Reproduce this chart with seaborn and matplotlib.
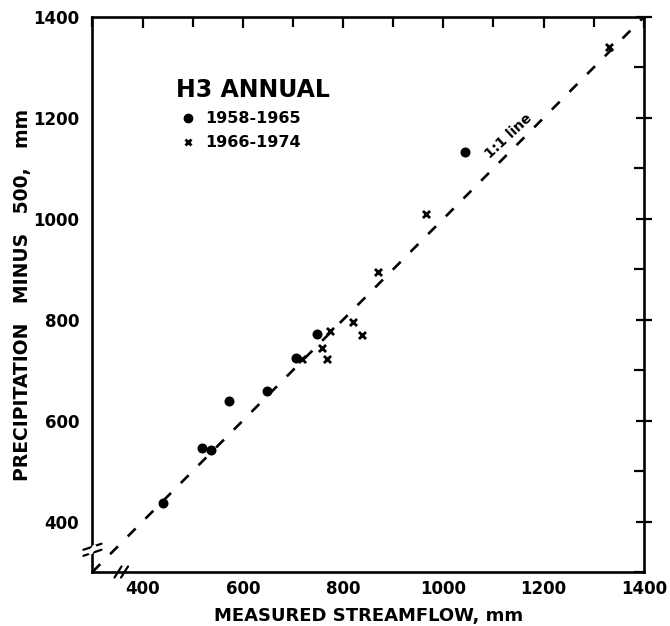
import matplotlib
matplotlib.use("Agg")
import matplotlib.pyplot as plt
from matplotlib.lines import Line2D
from matplotlib.ticker import MultipleLocator
import seaborn as sns
import pandas as pd

# ---- data ----
period_a = "1958-1965"
period_b = "1966-1974"
streamflow_a = [440, 519, 537, 572, 649, 706, 748, 1043]
precip_a = [437, 545, 541, 638, 658, 724, 771, 1133]
streamflow_b = [718, 757, 768, 774, 820, 838, 870, 965, 1330]
precip_b = [722, 743, 722, 777, 795, 770, 895, 1010, 1340]
one_to_one = [300, 1400]
x_ticks_major = 200
ticks_minor = 100
axis_limits = (300, 1400)
break_x = 357
break_y = 344

df_a = pd.DataFrame({"x": streamflow_a, "y": precip_a})
df_b = pd.DataFrame({"x": streamflow_b, "y": precip_b})

sns.set_theme(style="white")
plt.rcParams["font.family"] = ["DejaVu Sans"]
plt.rcParams["font.weight"] = "bold"

fig = plt.figure(figsize=(6.70, 6.26), dpi=100)
ax = fig.add_axes([0.138, 0.0863, 0.823, 0.8866])

# 1:1 line
sns.lineplot(x=one_to_one, y=one_to_one, ax=ax, color="black", lw=1.9,
             linestyle=(0, (4.2, 5.3)))

sns.scatterplot(data=df_a, x="x", y="y", ax=ax, marker="o", s=52,
                color="black", edgecolor="black", linewidth=0)
sns.scatterplot(data=df_b, x="x", y="y", ax=ax, marker="x", s=26,
                color="black", linewidth=2.0)

ax.set_xlim(*axis_limits)
ax.set_ylim(*axis_limits)

ax.xaxis.set_major_locator(MultipleLocator(x_ticks_major))
ax.yaxis.set_major_locator(MultipleLocator(x_ticks_major))
ax.xaxis.set_minor_locator(MultipleLocator(ticks_minor))
ax.yaxis.set_minor_locator(MultipleLocator(ticks_minor))

for s in ax.spines.values():
    s.set_linewidth(1.9)
    s.set_color("black")

ax.tick_params(axis="both", which="both", direction="in", top=True, right=True,
               width=1.6, color="black", labelsize=12, labelcolor="black")
ax.tick_params(axis="both", which="major", length=8)
ax.tick_params(axis="both", which="minor", length=7)
ax.tick_params(axis="y", which="major", direction="inout", length=11, pad=4)
ax.tick_params(axis="x", which="major", pad=6)
ax.tick_params(labeltop=False, labelright=False)
for lab in ax.get_xticklabels() + ax.get_yticklabels():
    lab.set_fontweight("bold")

ax.set_xlabel("MEASURED STREAMFLOW, mm", fontsize=13, fontweight="bold",
              labelpad=6, color="black")
ax.set_ylabel("PRECIPITATION   MINUS   500,   mm", fontsize=13.5,
              fontweight="bold", labelpad=1, color="black")

# 1:1 line label
ax.text(1131, 1163, "1:1 line", rotation=43, ha="center", va="center",
        rotation_mode="anchor", fontsize=10, fontweight="bold", color="black")

# axis break marks
dx, dy = 18, 6
for off in (-6, 6):
    ax.plot([axis_limits[0] - dx, axis_limits[0] + dx],
            [break_y + off - dy, break_y + off + dy],
            color="black", lw=1.6, clip_on=False)
ax.plot([axis_limits[0] - 4, axis_limits[0] + 4],
        [break_y - 6, break_y + 6], color="white", lw=3, clip_on=False,
        zorder=5)
for off in (-6, 7):
    ax.plot([break_x + off - 7, break_x + off + 7],
            [axis_limits[0] - 11, axis_limits[0] + 11],
            color="black", lw=1.6, clip_on=False)

# legend
handles = [
    Line2D([], [], marker="o", linestyle="none", color="black", markersize=6),
    Line2D([], [], marker="x", linestyle="none", color="black", markersize=5,
           markeredgewidth=2),
]
leg = ax.legend(handles, [period_a, period_b], title="H3 ANNUAL",
                loc="upper left", bbox_to_anchor=(0.152, 0.890), frameon=False,
                handlelength=1.5, handletextpad=0.3, labelspacing=0.57,
                borderpad=0, borderaxespad=0, alignment="left",
                prop={"weight": "bold", "size": 11.5},
                title_fontproperties={"weight": "bold", "size": 17})
for t in leg.get_texts():
    t.set_color("black")
leg.get_title().set_color("black")

fig.savefig("out.png", dpi=100, facecolor="white")
